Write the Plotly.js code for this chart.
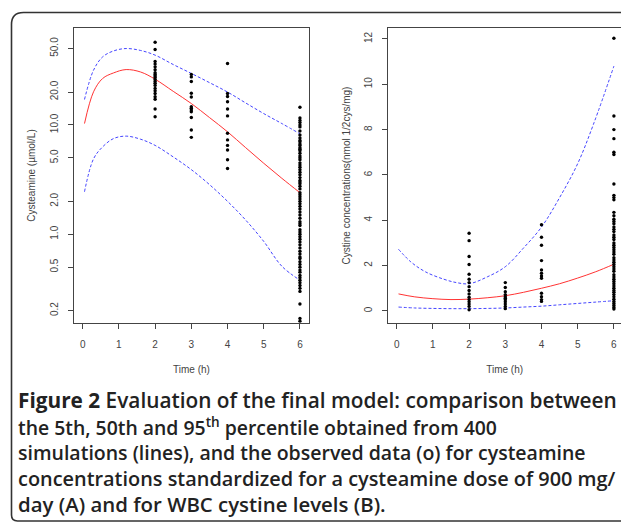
<!DOCTYPE html>
<html>
<head>
<meta charset="utf-8">
<script src="https://cdn.plot.ly/plotly-3.0.1.min.js"></script>
<style>
html,body{margin:0;padding:0;background:#fff;}
#chart{width:621px;height:522px;}
</style>
</head>
<body>
<div id="chart"></div>
<script>
// ---------- Data: panel A (cysteamine, log scale) ----------
const obsA_t2 = [57, 49, 38, 36, 34, 32, 30, 29, 28, 27.2, 26, 25, 24, 23, 21.6, 20.5, 19.4, 18.1, 17.2, 14, 11.9];
const obsA_t3 = [29, 27.5, 25, 19.5, 18, 14.7, 14.2, 13.7, 13.2, 11.7, 9.0, 7.7];
const obsA_t4 = [36.5, 19.4, 18.2, 16.3, 14.0, 12.1, 8.4, 7.3, 6.5, 5.9, 4.8, 4.0];
const obsA_t6 = [14.5, 11.6, 11, 10.5, 10, 9.6, 8.8, 8.1, 7.6, 7.2, 7, 6.7, 6.5, 6.2, 6, 5.8, 5.5, 5.2, 5, 4.8,
  4.5, 4.3, 4.1, 3.9, 3.7, 3.5, 3.3, 3.1, 3.0, 2.9, 2.75, 2.6, 2.4, 2.3, 2.2, 2.1, 2.0, 1.9, 1.8, 1.7,
  1.6, 1.5, 1.4, 1.3, 1.25, 1.2, 1.1, 1.05, 1.0, 0.95, 0.9, 0.85, 0.8, 0.75, 0.7, 0.66, 0.62, 0.6, 0.56, 0.53,
  0.5, 0.47, 0.45, 0.42, 0.4, 0.38, 0.36, 0.34, 0.32, 0.3, 0.23, 0.17, 0.16];

const curveA_time = [0.05, 0.3, 0.55, 0.85, 1.2, 1.6, 2.0, 2.5, 3.0, 3.5, 4.0, 4.5, 5.0, 5.5, 6.0];
const curveA_p50  = [10.3, 20.1, 26.6, 29.9, 32.1, 30.5, 26.2, 20.3, 15.7, 11.7, 8.65, 6.2, 4.46, 3.25, 2.4];
const curveA_p95  = [17.1, 31.7, 41.9, 47.5, 50, 48, 43.5, 35.7, 29.6, 24.4, 20, 15.9, 12.7, 10.3, 8.3];
const curveA_p5   = [2.45, 4.9, 6.3, 7.5, 7.9, 7.4, 6.5, 5.1, 3.9, 2.85, 2.0, 1.35, 0.86, 0.51, 0.38];

const tickA_vals = [0.2, 0.5, 1, 2, 5, 10, 20, 50];
const tickA_text = ["0.2", "0.5", "1.0", "2.0", "5.0", "10.0", "20.0", "50.0"];

// ---------- Data: panel B (WBC cystine, linear scale) ----------
const obsB_t2 = [3.43, 3.1, 2.4, 2.05, 1.62, 1.4, 1.25, 1.07, 0.9, 0.75, 0.6, 0.5, 0.4, 0.3, 0.2, 0.05];
const obsB_t3 = [1.25, 1.03, 0.85, 0.72, 0.63, 0.56, 0.49, 0.4, 0.3, 0.2, 0.1];
const obsB_t4 = [3.8, 3.25, 2.9, 2.22, 1.81, 1.66, 1.54, 1.44, 0.78, 0.63, 0.5, 0.42];
const obsB_t6 = [12.03, 8.6, 8.0, 7.6, 7.0, 6.9, 5.6, 5.1, 5.0, 4.9, 4.35, 4.2, 4.05, 3.95, 3.85, 3.7, 3.6, 3.5, 3.35, 3.25,
  3.15, 3.0, 2.9, 2.8, 2.7, 2.6, 2.5, 2.35, 2.25, 2.15, 2.05, 1.95, 1.85, 1.75, 1.6, 1.5, 1.4, 1.3, 1.2, 1.1,
  1.0, 0.9, 0.82, 0.72, 0.62, 0.52, 0.42, 0.33, 0.24, 0.15, 0.08];

const curveB_time = [0.05, 0.4, 0.8, 1.3, 1.65, 2.0, 2.5, 3.0, 3.5, 4.0, 4.5, 5.0, 5.45, 6.0];
const curveB_p95  = [2.72, 2.15, 1.72, 1.40, 1.25, 1.20, 1.5, 1.95, 2.77, 3.7, 5.0, 6.5, 8.3, 10.8];
const curveB_time2 = [0.05, 0.5, 1.0, 1.5, 2.0, 2.5, 3.0, 3.5, 4.0, 4.5, 5.0, 5.5, 6.0];
const curveB_p50  = [0.75, 0.62, 0.54, 0.5, 0.52, 0.58, 0.67, 0.82, 1.0, 1.2, 1.45, 1.73, 2.06];
const curveB_p5   = [0.17, 0.13, 0.11, 0.1, 0.1, 0.11, 0.13, 0.17, 0.21, 0.27, 0.33, 0.39, 0.45];

const xTicks = [0, 1, 2, 3, 4, 5, 6];

// ---------- helpers ----------
function column(t, vals) { return vals.map(() => t); }
function obsTrace(groups, xa, ya) {
  const xs = [], ys = [];
  groups.forEach(g => { xs.push(...column(g[0], g[1])); ys.push(...g[1]); });
  return {x: xs, y: ys, xaxis: xa, yaxis: ya, type: 'scatter', mode: 'markers',
    marker: {color: '#000', size: 3.4}, hoverinfo: 'skip', showlegend: false};
}
function lineTrace(x, y, xa, ya, color, dash) {
  return {x: x, y: y, xaxis: xa, yaxis: ya, type: 'scatter', mode: 'lines',
    line: {color: color, width: 1, dash: dash, shape: 'spline', smoothing: 1},
    hoverinfo: 'skip', showlegend: false};
}

const RED = '#f33';
const BLUE = '#4444ff';
const BDASH = '3px,2px';

const traces = [
  lineTrace(curveA_time, curveA_p95, 'x', 'y', BLUE, BDASH),
  lineTrace(curveA_time, curveA_p5, 'x', 'y', BLUE, BDASH),
  lineTrace(curveA_time, curveA_p50, 'x', 'y', RED, 'solid'),
  obsTrace([[2, obsA_t2], [3, obsA_t3], [4, obsA_t4], [6, obsA_t6]], 'x', 'y'),
  lineTrace(curveB_time, curveB_p95, 'x2', 'y2', BLUE, BDASH),
  lineTrace(curveB_time2, curveB_p5, 'x2', 'y2', BLUE, BDASH),
  lineTrace(curveB_time2, curveB_p50, 'x2', 'y2', RED, 'solid'),
  obsTrace([[2, obsB_t2], [3, obsB_t3], [4, obsB_t4], [6, obsB_t6]], 'x2', 'y2')
];

const W = 621, H = 522;
const px = v => v / W;
const py = v => 1 - v / H;

const AX_COLOR = '#444';
const tickFont = {family: 'Liberation Sans, Arial, sans-serif', size: 10, color: '#444'};
const baseAxis = {
  showline: true, mirror: true, linecolor: AX_COLOR, linewidth: 1,
  ticks: 'outside', ticklen: 5, tickcolor: AX_COLOR, tickwidth: 1,
  showgrid: false, zeroline: false, tickfont: tickFont, fixedrange: true
};

// Border (rounded frame) path in paper coordinates
function roundedFrame(l, t, r, b, rt, rb) {
  return 'M ' + px(l) + ',' + py(t + rt) +
    ' Q ' + px(l) + ',' + py(t) + ' ' + px(l + rt) + ',' + py(t) +
    ' L ' + px(r) + ',' + py(t) +
    ' M ' + px(l) + ',' + py(t + rt) +
    ' L ' + px(l) + ',' + py(b - rb) +
    ' Q ' + px(l) + ',' + py(b) + ' ' + px(l + rb) + ',' + py(b) +
    ' L ' + px(r) + ',' + py(b);
}

const capLines = [
  '<b>Figure 2</b> Evaluation of the final model: comparison between',
  'the 5th, 50th and 95<sup>th</sup> percentile obtained from 400',
  'simulations (lines), and the observed data (o) for cysteamine',
  'concentrations standardized for a cysteamine dose of 900 mg/',
  'day (A) and for WBC cystine levels (B).'
];
const capY = [400, 426, 452, 478, 503.5];
const capSize = [20.8, 19.4, 19.5, 19.9, 20.4];

const annotations = capLines.map((t, i) => ({
  text: t, xref: 'paper', yref: 'paper', x: px(16), y: py(capY[i]),
  xanchor: 'left', yanchor: 'middle', showarrow: false, align: 'left',
  font: {family: 'Open Sans, Noto Sans, sans-serif', size: capSize[i], color: '#222', weight: 600}
}));

const titleFont = {family: 'Liberation Sans, Arial, sans-serif', size: 10, color: '#444'};

const layout = {
  width: W, height: H,
  margin: {l: 0, r: 0, t: 0, b: 0, pad: 0},
  paper_bgcolor: '#fff', plot_bgcolor: '#fff',
  showlegend: false,
  xaxis: Object.assign({}, baseAxis, {
    domain: [px(74), px(309)], range: [-0.24, 6.25], tickvals: xTicks, anchor: 'y',
    ticklabelstandoff: 7,
    title: {text: 'Time (h)', font: titleFont, standoff: 17}
  }),
  yaxis: Object.assign({}, baseAxis, {
    domain: [py(322.7), py(28.3)], type: 'log', range: [-0.809, 1.884], anchor: 'x',
    tickvals: tickA_vals, ticktext: tickA_text, tickangle: -90, ticklabelstandoff: 6,
    title: {text: 'Cysteamine (µmol/L)', font: titleFont, standoff: 11}
  }),
  xaxis2: Object.assign({}, baseAxis, {
    domain: [px(388.3), 1], range: [-0.232, 6.196], tickvals: xTicks, anchor: 'y2',
    ticklabelstandoff: 7,
    title: {text: 'Time (h)', font: titleFont, standoff: 17}
  }),
  yaxis2: Object.assign({}, baseAxis, {
    domain: [py(322.7), py(28.3)], range: [-0.52, 12.47], anchor: 'x2',
    tickvals: [0, 2, 4, 6, 8, 10, 12], tickangle: -90, ticklabelstandoff: 6,
    title: {text: 'Cystine concentrations(nmol 1/2cys/mg)', font: titleFont, standoff: 10}
  }),
  shapes: [{
    type: 'path', xref: 'paper', yref: 'paper',
    path: roundedFrame(11.5, 12.5, 660, 521, 12, 6),
    line: {color: '#333', width: 1.6}
  }],
  annotations: annotations
};

Plotly.newPlot('chart', traces, layout, {staticPlot: true, displayModeBar: false});
</script>
</body>
</html>
